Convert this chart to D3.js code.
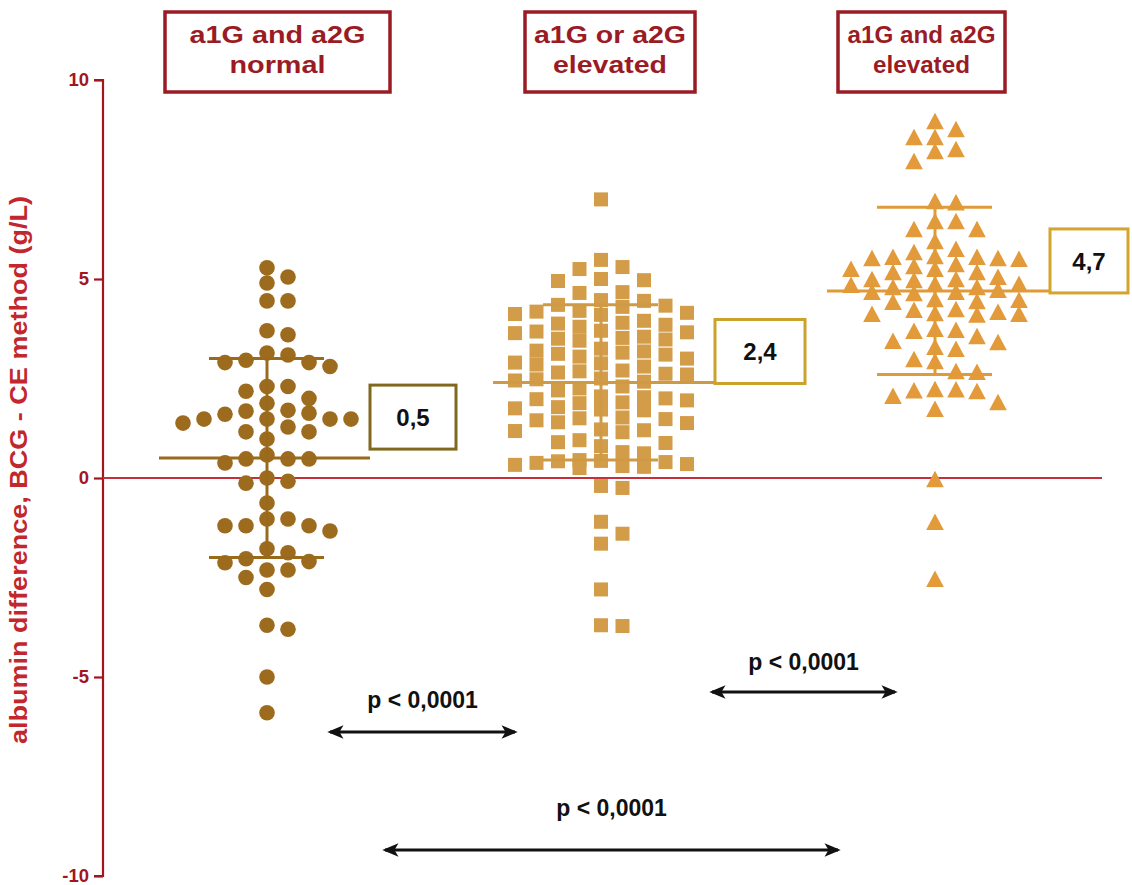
<!DOCTYPE html>
<html>
<head>
<meta charset="utf-8">
<script src="https://cdn.jsdelivr.net/npm/d3@7"></script>
<style>
  body { margin: 0; background: #fff; }
  svg { display: block; }
  text { font-family: "Liberation Sans", Arial, sans-serif; }
</style>
</head>
<body>
<svg id="chart" width="1132" height="885"></svg>
<script>
// ---- data -------------------------------------------------------------
const groups = ["normal", "oneElevated", "bothElevated"];
const groupTitles = [
  ["a1G and a2G", "normal"],
  ["a1G or a2G", "elevated"],
  ["a1G and a2G", "elevated"]
];

// albumin difference (g/L), BCG - CE, one value per patient
const normalValues = [
  5.28, 5.05, 4.9, 4.45, 4.45, 3.7, 3.6,
  3.14, 3.09, 2.96, 2.9, 2.9, 2.8,
  2.3, 2.3, 2.18, 2.0, 1.88, 1.7, 1.68, 1.63, 1.6,
  1.48, 1.48, 1.48, 1.48, 1.38,
  1.28, 1.16, 1.16, 0.98,
  0.58, 0.48, 0.48, 0.48, 0.38,
  0.0, -0.08, -0.13, -0.63,
  -1.03, -1.03, -1.2, -1.2, -1.2, -1.33,
  -1.78, -1.88, -2.03, -2.1, -2.13, -2.31, -2.31, -2.5, -2.8,
  -3.7, -3.8, -5.0, -5.9
];
const oneElevatedValues = [
  7.0, 5.48, 5.3, 5.25, 5.0, 4.97, 4.95, 4.67, 4.65,
  4.47, 4.45, 4.35, 4.33, 4.3,
  4.2, 4.18, 4.15, 4.12, 4.1,
  3.95, 3.9, 3.88, 3.85, 3.8,
  3.7, 3.68, 3.66, 3.64,
  3.55, 3.52, 3.5, 3.48, 3.45,
  3.25, 3.2, 3.18, 3.15, 3.12, 3.1, 3.05, 3.0,
  2.9, 2.88, 2.85, 2.8,
  2.7, 2.68, 2.65, 2.62, 2.6,
  2.5, 2.48, 2.45, 2.42,
  2.3, 2.25, 2.2,
  2.05, 2.03, 2.0, 1.98, 1.95, 1.9, 1.88,
  1.78, 1.75, 1.72, 1.7,
  1.52, 1.5, 1.48, 1.45, 1.4, 1.38,
  1.22, 1.2, 1.18, 1.15,
  0.95, 0.9, 0.88, 0.8,
  0.65, 0.62,
  0.45, 0.43, 0.42, 0.4, 0.38, 0.35, 0.33,
  0.3, 0.28, 0.25,
  -0.2, -0.25,
  -1.1, -1.4, -1.65, -2.8, -3.7, -3.72
];
const bothElevatedValues = [
  8.94, 8.74, 8.54, 8.54, 8.24, 8.19, 7.94,
  6.93, 6.9, 6.43, 6.43, 6.23, 6.23, 5.93, 5.73,
  5.65, 5.55, 5.53, 5.53, 5.5, 5.5, 5.48,
  5.35, 5.3, 5.23, 5.23, 5.15, 5.15,
  5.03, 4.97, 4.97, 4.95, 4.85, 4.85, 4.83,
  4.77, 4.77, 4.7, 4.65, 4.62, 4.65,
  4.47, 4.42, 4.4, 4.45,
  4.22, 4.2,
  4.1, 4.1, 4.12, 4.15, 4.08,
  3.72, 3.67, 3.7, 3.54, 3.42, 3.39, 3.27, 3.22,
  2.96, 2.91, 2.66, 2.64,
  2.21, 2.2, 2.18, 2.16, 2.04, 1.88, 1.71,
  -0.05, -1.13, -2.56
];
const groupValues = [normalValues, oneElevatedValues, bothElevatedValues];

const means = [0.5, 2.4, 4.7];
const sds = [2.5, 1.95, 2.1];
const meanLabels = ["0,5", "2,4", "4,7"];

const yTicks = [-10, -5, 0, 5, 10];
const yTitle = "albumin difference, BCG - CE method (g/L)";
const pLabels = ["p < 0,0001", "p < 0,0001", "p < 0,0001"];

// ---- layout -----------------------------------------------------------
const axisX = 103, plotRight = 1102;
const svg = d3.select("#chart");

const y = d3.scaleLinear().domain([-10, 10]).range([876, 80]);
const x = d3.scaleBand().domain(groups).range([100, plotRight]);
const cx = g => x(g) + x.bandwidth() / 2;

const markerColors = ["#9d6b1d", "#d39c48", "#e29a3a"];
const lineColors = ["#9a6a1c", "#cf9a46", "#e09a38"];
const labelBoxColors = ["#80691f", "#cba22b", "#d3a52c"];
const axisRed = "#a3161f";
const titleRed = "#9b1b24";

// ---- axis -------------------------------------------------------------
const yAxis = svg.append("g")
  .attr("transform", `translate(${axisX},0)`)
  .call(d3.axisLeft(y).tickValues(yTicks).tickSize(9).tickPadding(5).tickFormat(d3.format("d")));
yAxis.select(".domain").attr("stroke", axisRed).attr("stroke-width", 2.2)
  .attr("d", `M-9,${y(10)}H0V${y(-10)}H-9`);
yAxis.selectAll(".tick line").attr("stroke", axisRed).attr("stroke-width", 2.2);
yAxis.selectAll(".tick text")
  .attr("fill", axisRed).attr("font-size", 18.5).attr("font-weight", "bold")
  .attr("dy", "0.3em")
  .text(d => String(d));

svg.append("text")
  .attr("transform", `translate(27,${470}) rotate(-90)`)
  .attr("text-anchor", "middle")
  .attr("fill", "#c1272d")
  .attr("font-size", 23).attr("font-weight", "bold")
  .attr("textLength", 548).attr("lengthAdjust", "spacingAndGlyphs")
  .text(yTitle);

// zero reference line
svg.append("line")
  .attr("x1", axisX).attr("x2", plotRight)
  .attr("y1", y(0)).attr("y2", y(0))
  .attr("stroke", "#c42f3a").attr("stroke-width", 2.2);

// ---- group header boxes ----------------------------------------------
const headerBoxes = [
  { x0: 165, x1: 390, w: 176 },
  { x0: 525, x1: 695, w: 152 },
  { x0: 838, x1: 1005, w: 148 }
];
groups.forEach((g, i) => {
  const b = headerBoxes[i];
  const mid = (b.x0 + b.x1) / 2;
  const hg = svg.append("g");
  hg.append("rect")
    .attr("x", b.x0).attr("y", 12).attr("width", b.x1 - b.x0).attr("height", 80)
    .attr("fill", "#fff").attr("stroke", titleRed).attr("stroke-width", 3.5);
  const lines = hg.selectAll("text.head").data(groupTitles[i]).join("text")
    .attr("class", "head")
    .attr("x", mid).attr("y", (d, k) => 43 + k * 30)
    .attr("text-anchor", "middle").attr("fill", titleRed)
    .attr("font-size", 23).attr("font-weight", "bold")
    .text(d => d);
  // stretch both lines by the same factor so the top line spans the box
  const nodes = lines.nodes();
  const factor = b.w / nodes[0].getComputedTextLength();
  nodes.forEach(n => {
    const len = n.getComputedTextLength() * factor;
    d3.select(n).attr("textLength", len).attr("lengthAdjust", "spacingAndGlyphs");
  });
});

// ---- swarm placement: each point goes to the nearest free column slot ----
function swarm(values, centre, spacing, gap, maxSlot) {
  const order = values.map((v, i) => ({ v, i })).sort((a, b) => b.v - a.v);
  const slots = new Map();
  return order.map(d => {
    const py = y(d.v);
    let best = 0, bestClear = -1;
    for (let k = 0; k <= 2 * maxSlot; k++) {
      const s = k === 0 ? 0 : (k % 2 ? (k + 1) / 2 : -k / 2);
      const ys = slots.get(s) || [];
      const clear = ys.length ? d3.min(ys, q => Math.abs(q - py)) : Infinity;
      if (clear >= gap) { best = s; bestClear = clear; break; }
      if (clear > bestClear) { bestClear = clear; best = s; }
    }
    if (!slots.has(best)) slots.set(best, []);
    slots.get(best).push(py);
    return { v: d.v, px: centre + best * spacing, py };
  });
}

const triangle = (s) => `M0,${-s * 0.55}L${s * 0.52},${s * 0.42}L${-s * 0.52},${s * 0.42}Z`;

const labelBoxes = [
  { dx: 103, dy: -73, w: 86 },
  { dx: 114, dy: -63, w: 90 },
  { dx: 115, dy: -62, w: 78 }
];

groups.forEach((g, i) => {
  const c = cx(g);
  const layer = svg.append("g");
  const spacing = [21, 21.5, 21][i];
  const gap = [14, 14, 13.5][i];
  const pts = swarm(groupValues[i], c, spacing, gap, 4);

  if (i === 0) {
    layer.selectAll("circle").data(pts).join("circle")
      .attr("cx", d => d.px).attr("cy", d => d.py).attr("r", 7.8)
      .attr("fill", markerColors[i]);
  } else if (i === 1) {
    layer.selectAll("rect").data(pts).join("rect")
      .attr("x", d => d.px - 7).attr("y", d => d.py - 7)
      .attr("width", 14).attr("height", 14)
      .attr("fill", markerColors[i]);
  } else {
    layer.selectAll("path").data(pts).join("path")
      .attr("transform", d => `translate(${d.px},${d.py})`)
      .attr("d", triangle(17))
      .attr("fill", markerColors[i]);
  }

  const lb = labelBoxes[i];

  // mean and +/- SD bars
  const lg = svg.append("g").attr("stroke", lineColors[i]).attr("stroke-width", 3);
  lg.append("line").attr("x1", c - 108).attr("x2", c + lb.dx).attr("y1", y(means[i])).attr("y2", y(means[i]));
  lg.append("line").attr("x1", c - 58).attr("x2", c + 57).attr("y1", y(means[i] + sds[i])).attr("y2", y(means[i] + sds[i]));
  lg.append("line").attr("x1", c - 58).attr("x2", c + 57).attr("y1", y(means[i] - sds[i])).attr("y2", y(means[i] - sds[i]));
  lg.append("line").attr("x1", c).attr("x2", c).attr("y1", y(means[i] + sds[i])).attr("y2", y(means[i] - sds[i]));

  // mean value label
  const bx = c + lb.dx, by = y(means[i]) + lb.dy;
  svg.append("rect")
    .attr("x", bx).attr("y", by).attr("width", lb.w).attr("height", 64)
    .attr("fill", "#fff").attr("stroke", labelBoxColors[i]).attr("stroke-width", 3);
  svg.append("text")
    .attr("x", bx + lb.w / 2).attr("y", by + 41)
    .attr("text-anchor", "middle").attr("font-size", 24).attr("font-weight", "bold")
    .attr("fill", "#111").text(meanLabels[i]);
});

// ---- significance arrows ----------------------------------------------
const defs = svg.append("defs");
defs.append("marker").attr("id", "arrowhead")
  .attr("viewBox", "0 0 12 10").attr("refX", 10).attr("refY", 5)
  .attr("markerWidth", 5.5).attr("markerHeight", 4.5).attr("orient", "auto-start-reverse")
  .append("path").attr("d", "M0,0L12,5L0,10L3,5Z").attr("fill", "#111");
const arrows = [
  { x0: 328, x1: 517, ay: 732, ty: 708 },
  { x0: 710, x1: 897, ay: 692, ty: 670 },
  { x0: 383, x1: 840, ay: 850, ty: 816 }
];
arrows.forEach((a, i) => {
  svg.append("line")
    .attr("x1", a.x0 + 2).attr("x2", a.x1 - 2).attr("y1", a.ay).attr("y2", a.ay)
    .attr("stroke", "#111").attr("stroke-width", 3)
    .attr("marker-start", "url(#arrowhead)").attr("marker-end", "url(#arrowhead)");
  svg.append("text")
    .attr("x", (a.x0 + a.x1) / 2).attr("y", a.ty)
    .attr("text-anchor", "middle").attr("font-size", 23).attr("font-weight", "bold")
    .attr("fill", "#111").text(pLabels[i]);
});
</script>
</body>
</html>
